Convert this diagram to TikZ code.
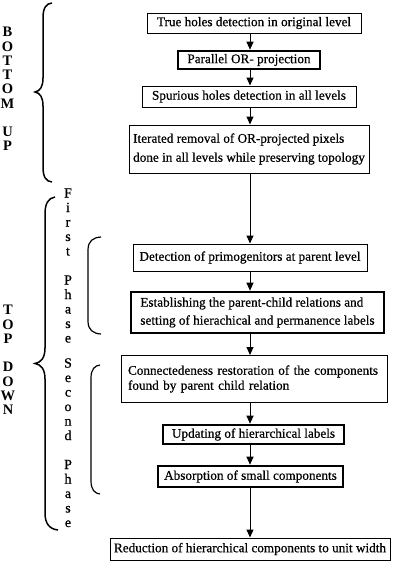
\documentclass[tikz,border=0pt]{standalone}
\usepackage{fontspec}
\setmainfont{Liberation Serif}
\newfontfamily\boxfont{Liberation Serif}[FakeBold=0.6]
\newfontfamily\phasefont{Liberation Serif}[FakeBold=0.8]
\usetikzlibrary{arrows.meta}
\begin{document}
\begin{tikzpicture}[x=1pt,y=-1pt,
  box/.style={draw, line width=1pt, inner sep=0pt, font=\boxfont\fontsize{13.2}{17}\selectfont, align=center},
  thickbox/.style={box, line width=2.6pt},
  arr/.style={line width=1pt, -{Triangle[length=8pt,width=7pt]}},
  brc/.style={line width=1.5pt},
  brcs/.style={line width=1.2pt},
  side/.style={inner sep=0pt, align=center, font=\fontsize{14.5}{14.3}\selectfont\bfseries},
  phase/.style={inner sep=0pt, align=center, font=\phasefont\fontsize{14}{14.5}\selectfont}]
\useasboundingbox (0,0) rectangle (400,587);
\fill[white] (0,0) rectangle (400,587);

% boxes
\node[box, minimum width=214pt, minimum height=20pt] (b1) at (254,23) {True holes detection in original level};
\node[thickbox, minimum width=142pt, minimum height=18pt] (b2) at (249,60) {Parallel OR- projection};
\node[box, minimum width=214pt, minimum height=21pt] (b3) at (249,96.5) {Spurious holes detection in all levels};
\node[box, minimum width=240pt, minimum height=48pt, align=left, font=\boxfont\fontsize{13.2}{19}\selectfont] (b4) at (249,149) {Iterated removal of OR-projected pixels\\done in all levels while preserving topology};
\node[box, minimum width=234pt, minimum height=27pt] (b5) at (250,257.5) {Detection of primogenitors at parent level};
\node[thickbox, minimum width=253pt, minimum height=41pt, align=left, font=\boxfont\fontsize{13.2}{18}\selectfont] (b6) at (257.5,312.5) {Establishing the parent-child relations and\\setting of hierachical and permanence labels};
\node[box, minimum width=266pt, minimum height=47pt, text width=252pt, inner xsep=7pt, align=left, font=\boxfont\fontsize{13.2}{15}\selectfont] (b7) at (254,379) {Connectedeness restoration of the components\\found by parent child relation};
\node[thickbox, minimum width=181pt, minimum height=19pt] (b8) at (253.5,434.5) {Updating of hierarchical labels};
\node[thickbox, minimum width=185pt, minimum height=21pt] (b9) at (250.5,476.5) {Absorption of small components};
\node[box, minimum width=280pt, minimum height=22pt] (b10) at (250,549) {Reduction of hierarchical components to unit width};

% arrows
\coordinate (ax) at (250,0);
\draw[arr] (b1.south -| ax) -- (b2.north -| ax);
\draw[arr] (b2.south -| ax) -- (b3.north -| ax);
\draw[arr] (b3.south -| ax) -- (b4.north -| ax);
\draw[arr] (b4.south -| ax) -- (b5.north -| ax);
\draw[arr] (b5.south -| ax) -- (b6.north -| ax);
\draw[arr] (b6.south -| ax) -- (b7.north -| ax);
\draw[arr] (b7.south -| ax) -- (b8.north -| ax);
\draw[arr] (b8.south -| ax) -- (b9.north -| ax);
\draw[arr] (b9.south -| ax) -- (b10.north -| ax);

% braces
\draw[brc] (52,3) .. controls (46,3.5) and (43,8) .. (43,18) -- (43,78) .. controls (43,87) and (40,91) .. (35,92) .. controls (40,93) and (43,97) .. (43,106) -- (43,167) .. controls (43,177) and (46,181.5) .. (52,182);
\draw[brc] (55,197) .. controls (48,198) and (45,204) .. (45,214) -- (45,348) .. controls (45,358) and (41,362.5) .. (35,363.5) .. controls (41,364.5) and (45,369) .. (45,379) -- (45,513) .. controls (45,523) and (49,529) .. (58,530);
\draw[brcs] (101,237) .. controls (93,237.5) and (88,241) .. (88,250) -- (88,321) .. controls (88,330) and (93,333.5) .. (101,334);
\draw[brcs] (100,365) .. controls (95,365.5) and (91,369) .. (91,378) -- (91,481) .. controls (91,490) and (95,493.5) .. (100,494);

% side labels
\node[side] (bottom) at (7.5,67.7) {B\\O\\T\\T\\O\\M};
\node[side] (up) at (7.5,139) {U\\P};
\node[side] (top) at (8,324.3) {T\\O\\P};
\node[side] (down) at (8,388.6) {D\\O\\W\\N};
\node[phase] (first) at (68,222) {F\\i\\r\\s\\t};
\node[phase] (phase1) at (68,309) {P\\h\\a\\s\\e};
\node[phase] (second) at (68,399.25) {S\\e\\c\\o\\n\\d};
\node[phase] (phase2) at (68,493.5) {P\\h\\a\\s\\e};
\end{tikzpicture}
\end{document}
